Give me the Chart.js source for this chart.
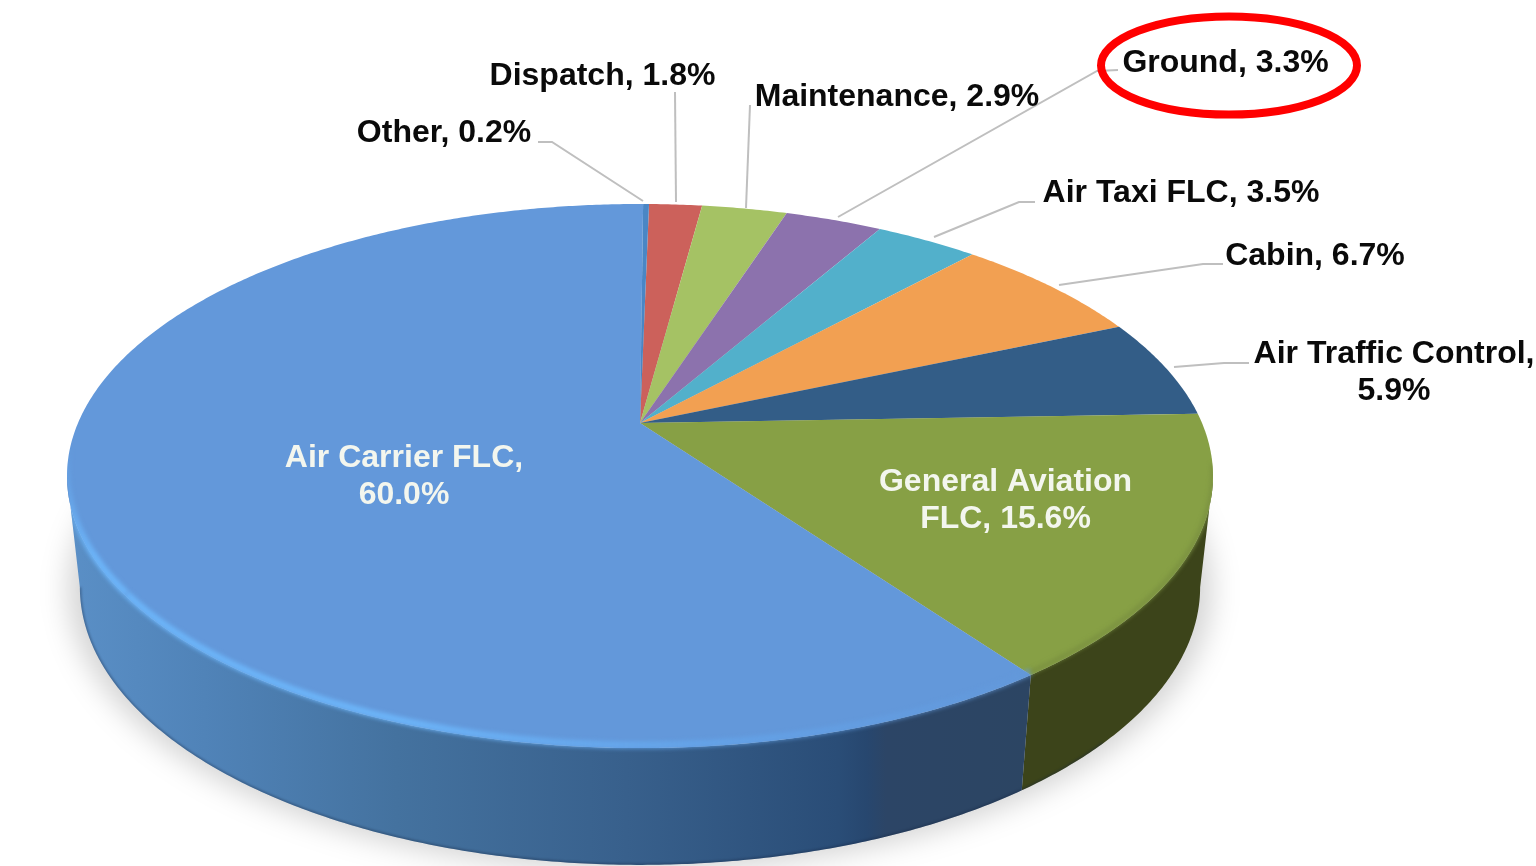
<!DOCTYPE html>
<html>
<head>
<meta charset="utf-8">
<style>
  html, body { margin: 0; padding: 0; background: #fff; }
  #wrap { width: 1536px; height: 866px; overflow: hidden; }
</style>
<script src="https://cdn.jsdelivr.net/npm/chart.js@4"></script>
</head>
<body>
<div id="wrap"><canvas id="chart" width="1536" height="866"></canvas></div>
<script>
// clockwise from the top of the pie
const categories = ['Dispatch', 'Maintenance', 'Ground', 'Air Taxi FLC', 'Cabin', 'Air Traffic Control', 'General Aviation FLC', 'Air Carrier FLC', 'Other'];
const shares = [1.8, 2.9, 3.3, 3.5, 6.7, 5.9, 15.6, 60.0, 0.2];
const sliceColors = ['#cc615b', '#a5c264', '#8c72ad', '#52b0cb', '#f2a052', '#335d87', '#87a045', '#6398da', '#4a86c5'];

// label layout: centre x, centre y of first line, wrap
const labelLayout = {
  'Dispatch': { x: 602.5, y: 76 },
  'Maintenance': { x: 897, y: 97 },
  'Ground': { x: 1225.5, y: 63 },
  'Air Taxi FLC': { x: 1181, y: 193 },
  'Cabin': { x: 1315, y: 256 },
  'Air Traffic Control': { x: 1394, y: 354, lines: ['Air Traffic Control,', '{v}'] },
  'General Aviation FLC': { x: 1005.5, y: 482, lines: ['General Aviation', 'FLC, {v}'], inside: true },
  'Air Carrier FLC': { x: 404, y: 458, lines: ['Air Carrier FLC,', '{v}'], inside: true },
  'Other': { x: 444, y: 133 }
};
const leaders = [
  [[538, 142], [552, 142], [643, 201]],
  [[675, 92], [676, 202]],
  [[750, 105], [746, 208]],
  [[1118, 70], [1097, 71], [838, 217]],
  [[1035, 202], [1019, 202], [934, 237]],
  [[1223, 264], [1203, 264], [1059, 285]],
  [[1249, 363], [1224, 363], [1174, 367]]
];

// the pie lies tilted, so the circle goes through a small perspective map
const topRim = { cx: 640, cy: 423, a: 562, b: 261.7, k: -0.195 };
const baseRim = { cx: 640, cy: 533, a: 549.5, b: 267.5, k: -0.194 };
const wallFrom = Math.asin(0.195);
const wallTo = Math.PI - wallFrom;

function rimPoint(rim, angle) {
  const u = Math.cos(angle);
  const v = Math.sin(angle);
  const w = 1 + rim.k * v;
  return [rim.cx + rim.a * u / w, rim.cy + rim.b * v / w];
}

function traceRim(ctx, rim, from, to, start) {
  const steps = Math.max(2, Math.ceil(Math.abs(to - from) * 120));
  for (let i = 0; i <= steps; i++) {
    const p = rimPoint(rim, from + (to - from) * i / steps);
    if (i === 0 && start) ctx.moveTo(p[0], p[1]);
    else ctx.lineTo(p[0], p[1]);
  }
}

function blueWall(ctx) {
  const g = ctx.createLinearGradient(70, 0, 1030, 0);
  g.addColorStop(0, '#5a8fc6');
  g.addColorStop(0.14, '#5083b8');
  g.addColorStop(0.34, '#44729f');
  g.addColorStop(0.58, '#38608c');
  g.addColorStop(0.8, '#2a4d77');
  g.addColorStop(0.83, '#27476f');
  g.addColorStop(0.85, '#2c4566');
  g.addColorStop(1, '#2c4563');
  return g;
}

const pie3d = {
  id: 'pie3d',
  beforeDatasetDraw(chart) {
    const ctx = chart.ctx;
    const arcs = chart.getDatasetMeta(0).data;
    ctx.save();

    // soft shadow under the disc
    ctx.save();
    ctx.filter = 'blur(14px)';
    ctx.fillStyle = 'rgba(0,0,0,0.17)';
    ctx.beginPath();
    ctx.ellipse(640, 589, 572, 282, 0, 0, Math.PI * 2);
    ctx.fill();
    ctx.restore();

    // side walls, only the front part shows
    arcs.forEach((arc, i) => {
      const from = Math.max(arc.startAngle, wallFrom);
      const to = Math.min(arc.endAngle, wallTo);
      if (from >= to) return;
      ctx.beginPath();
      traceRim(ctx, topRim, from, to, true);
      traceRim(ctx, baseRim, to, from, false);
      ctx.closePath();
      ctx.fillStyle = categories[i] === 'Air Carrier FLC' ? blueWall(ctx) : '#3c441a';
      ctx.fill();
    });

    // top faces
    arcs.forEach((arc, i) => {
      ctx.beginPath();
      ctx.moveTo(topRim.cx, topRim.cy);
      traceRim(ctx, topRim, arc.startAngle, arc.endAngle, false);
      ctx.closePath();
      ctx.fillStyle = sliceColors[i];
      ctx.fill();
    });

    // everything soft stays inside the disc outline
    ctx.save();
    ctx.beginPath();
    traceRim(ctx, topRim, wallTo, wallFrom + Math.PI * 2, true);
    traceRim(ctx, baseRim, wallFrom, wallTo, false);
    ctx.closePath();
    ctx.clip();

    // dark line along the bottom of the wall
    ctx.save();
    ctx.filter = 'blur(1px)';
    ctx.strokeStyle = 'rgba(20,35,60,0.35)';
    ctx.lineWidth = 3;
    ctx.beginPath();
    traceRim(ctx, baseRim, 0.75, wallTo, true);
    ctx.stroke();
    ctx.restore();

    // bevel along the rim
    const blue = arcs[categories.indexOf('Air Carrier FLC')];
    const green = arcs[categories.indexOf('General Aviation FLC')];
    const split = Math.PI * 0.8;
    const glow = ctx.createLinearGradient(70, 0, 1030, 0);
    glow.addColorStop(0, 'rgba(108,180,248,1)');
    glow.addColorStop(0.35, 'rgba(108,180,248,1)');
    glow.addColorStop(0.7, 'rgba(100,165,235,0.7)');
    glow.addColorStop(1, 'rgba(99,152,218,0.7)');
    const glowLeft = ctx.createLinearGradient(0, 450, 0, 560);
    glowLeft.addColorStop(0, 'rgba(108,180,248,0)');
    glowLeft.addColorStop(1, 'rgba(108,180,248,1)');

    ctx.save();
    ctx.filter = 'blur(2px)';
    ctx.translate(0, -3);
    ctx.lineWidth = 7;
    ctx.strokeStyle = glow;
    ctx.beginPath();
    traceRim(ctx, topRim, blue.startAngle, split, true);
    ctx.stroke();
    ctx.strokeStyle = glowLeft;
    ctx.beginPath();
    traceRim(ctx, topRim, split, Math.PI - 0.05, true);
    ctx.stroke();
    ctx.strokeStyle = '#7a9040';
    ctx.lineWidth = 4;
    ctx.beginPath();
    traceRim(ctx, topRim, green.startAngle + 0.2, green.endAngle, true);
    ctx.stroke();
    ctx.restore();

    ctx.restore();
    ctx.restore();
    return false;
  },
  afterDatasetsDraw(chart) {
    const ctx = chart.ctx;
    ctx.save();

    ctx.strokeStyle = '#bfbfbf';
    ctx.lineWidth = 2;
    leaders.forEach(points => {
      ctx.beginPath();
      points.forEach((p, i) => (i ? ctx.lineTo(p[0], p[1]) : ctx.moveTo(p[0], p[1])));
      ctx.stroke();
    });

    ctx.font = 'bold 32px "Liberation Sans"';
    ctx.textAlign = 'center';
    ctx.textBaseline = 'middle';
    categories.forEach((name, i) => {
      const spot = labelLayout[name];
      const value = shares[i].toFixed(1) + '%';
      const lines = spot.lines ? spot.lines.map(l => l.replace('{v}', value)) : [name + ', ' + value];
      ctx.fillStyle = spot.inside ? '#f3f6ee' : '#0a0a0a';
      lines.forEach((line, n) => ctx.fillText(line, spot.x, spot.y + n * 37.5));
    });

    // red ring round the Ground label
    ctx.strokeStyle = '#ff0000';
    ctx.lineWidth = 8;
    ctx.beginPath();
    ctx.ellipse(1229, 65.5, 128, 49, 0, 0, Math.PI * 2);
    ctx.stroke();

    ctx.restore();
  }
};

new Chart(document.getElementById('chart'), {
  type: 'pie',
  data: {
    labels: categories,
    datasets: [{ data: shares, backgroundColor: sliceColors, borderWidth: 0 }]
  },
  options: {
    responsive: false,
    animation: false,
    events: [],
    rotation: 1.1,
    plugins: { legend: { display: false }, tooltip: { enabled: false } }
  },
  plugins: [pie3d]
});
</script>
</body>
</html>
